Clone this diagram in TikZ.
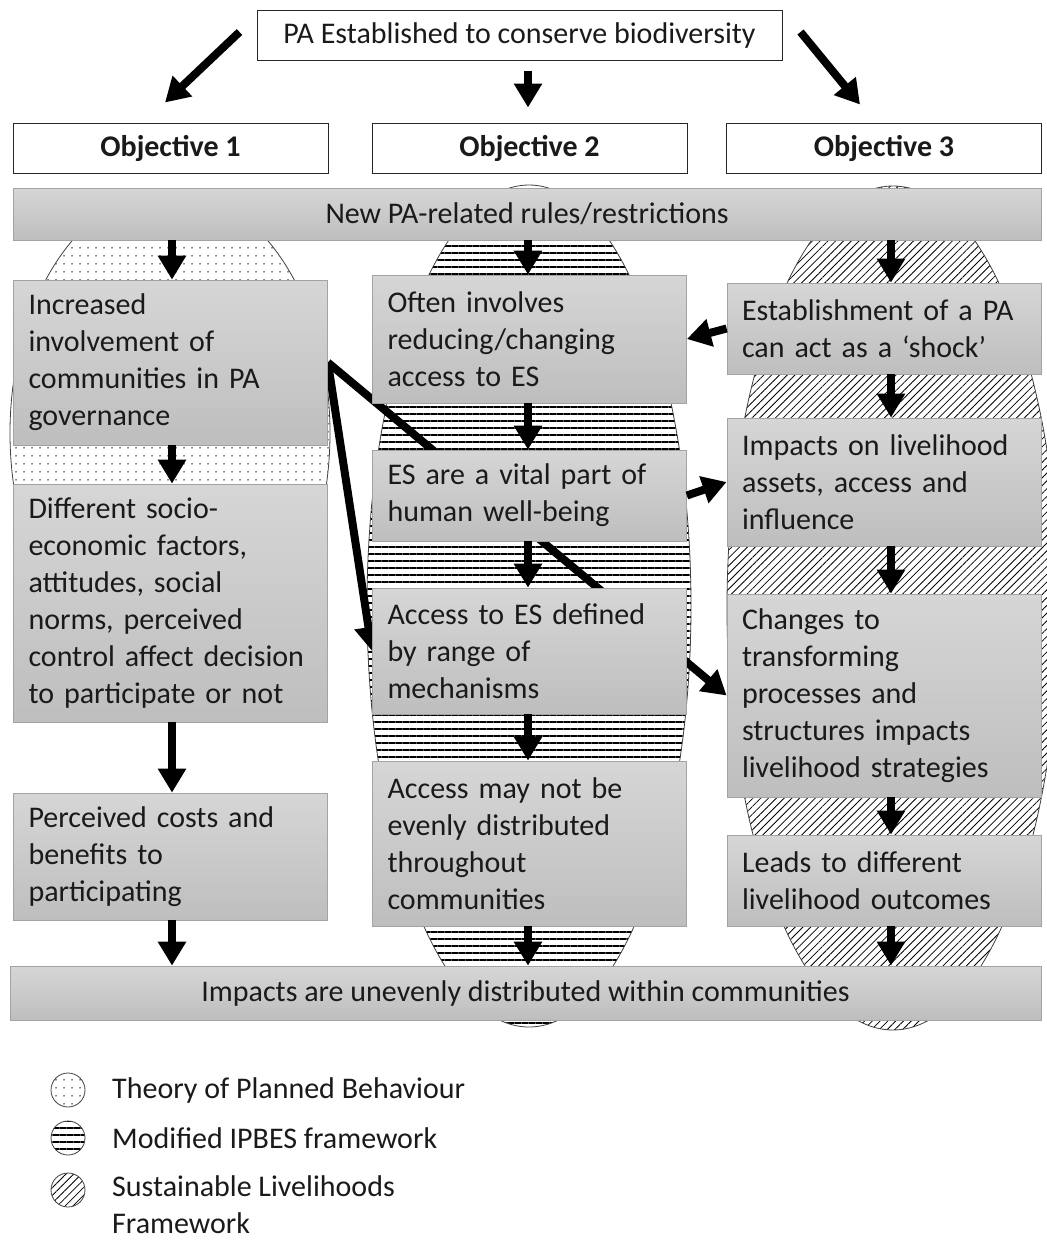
\documentclass[tikz,border=0pt]{standalone}
\usepackage{fontspec}
\setmainfont{Carlito}
\usetikzlibrary{arrows.meta,positioning,calc,patterns.meta,backgrounds}
\definecolor{ink}{HTML}{1A1A1A}
\definecolor{edge}{HTML}{A3A3A3}
\definecolor{shadetop}{HTML}{D6D6D6}
\definecolor{shadebot}{HTML}{BEBEBE}
\tikzset{
  base/.style={font=\fontsize{30}{37}\selectfont, text=ink, inner sep=0pt},
  frame/.style={base, draw=black!85, fill=white, line width=1pt, minimum height=50pt, align=center},
  box/.style={base, draw=edge, line width=0.8pt, top color=shadetop, bottom color=shadebot, minimum width=314pt, text width=284pt, align=left},
  band/.style={base, draw=edge, line width=0.8pt, top color=shadetop, bottom color=shadebot, align=center},
  arr/.style={-{Triangle[length=24pt,width=27pt]}, line width=8pt, draw=black},
  oval/.style={draw=black!75, line width=0.8pt},
  tpb/.style={pattern={Dots[distance=8pt,radius=0.75pt]}},
  ipbes/.style={pattern={Lines[distance=7pt,line width=1.3pt]}},
  slf/.style={pattern={Lines[angle=45,distance=5.5pt,line width=0.8pt]}},
  lab/.style={base, anchor=west, align=left},
}

\begin{document}
\begin{tikzpicture}[x=1pt,y=-1pt]
  \useasboundingbox (0,0) rectangle (1047,1240);

  % header and objectives
  \node[frame, minimum width=525pt] (top) at (519.5,35) {PA Established to conserve biodiversity};
  \node[frame, minimum width=315pt, font=\fontsize{30}{37}\selectfont\bfseries] (obj1) at (170.5,148) {Objective 1};
  \node[frame, minimum width=315pt, font=\fontsize{30}{37}\selectfont\bfseries] (obj2) at (529.5,148) {Objective 2};
  \node[frame, minimum width=315pt, font=\fontsize{30}{37}\selectfont\bfseries] (obj3) at (884,148) {Objective 3};

  \node[band, minimum width=1028pt, minimum height=52pt] (bar) at (527,214) {New PA-related rules/restrictions};
  \node[band, minimum width=1031pt, minimum height=54pt] (foot) at (525.5,993) {Impacts are unevenly distributed within communities};

  % objective 1
  \node[box, minimum height=165pt] (b1) at (170.5,362.5) {Increased\\involvement of\\communities in PA\\governance};
  \node[box, minimum height=238pt] (b2) at (170.5,603) {Different socio-\\economic factors,\\attitudes, social\\norms, perceived\\control affect decision\\to participate or not};
  \node[box, minimum height=127pt] (b3) at (170.5,856.5) {Perceived costs and\\benefits to\\participating};

  % objective 2
  \node[box, minimum height=128pt] (c1) at (529.5,339) {Often involves\\reducing/changing\\access to ES};
  \node[box, minimum height=91pt] (c2) at (529.5,495.5) {ES are a vital part of\\human well-being};
  \node[box, minimum height=126pt] (c3) at (529.5,651) {Access to ES defined\\by range of\\mechanisms};
  \node[box, minimum height=165pt] (c4) at (529.5,843.5) {Access may not be\\evenly distributed\\throughout\\communities};

  % objective 3
  \node[box, minimum height=91pt] (d1) at (884,328.5) {Establishment of a PA\\can act as a ‘shock’};
  \node[box, minimum height=128pt] (d2) at (884,482) {Impacts on livelihood\\assets, access and\\influence};
  \node[box, minimum height=203pt] (d3) at (884,695.5) {Changes to\\transforming\\processes and\\structures impacts\\livelihood strategies};
  \node[box, minimum height=91pt] (d4) at (884,880.5) {Leads to different\\livelihood outcomes};

  % frameworks behind the boxes
  \begin{scope}[on background layer]
    \draw[oval, tpb] (170,433) ellipse [x radius=160, y radius=243];
    \draw[oval, ipbes] (529,606) ellipse [x radius=162, y radius=421];
    \draw[oval, slf] (893,608) ellipse [x radius=166, y radius=422];
    \draw[arr] (b1.east) -- (d3.west);
    \draw[arr] (b1.east) -- (c3.west);
  \end{scope}

  \draw[arr] ($(top.west)+(-17,-3)$) -- ($(obj1.north)+(-5.5,-20)$);
  \draw[arr] ($(top.south)+(8.5,10)$) -- ($(obj2.north)+(-1.5,-15)$);
  \draw[arr] ($(top.east)+(18,-3)$) -- ($(obj3.north)+(-24,-18)$);

  \coordinate (k1) at (172,0);
  \coordinate (k2) at (528,0);
  \coordinate (k3) at (891,0);
  \foreach \a/\b/\k in {bar/b1/k1, b1/b2/k1, b2/b3/k1, b3/foot/k1,
                        bar/c1/k2, c1/c2/k2, c2/c3/k2, c3/c4/k2, c4/foot/k2,
                        bar/d1/k3, d1/d2/k3, d2/d3/k3, d3/d4/k3, d4/foot/k3}
    \draw[arr] (\a.south -| \k) -- (\b.north -| \k);

  \draw[arr] (d1.west) -- (c1.east);
  \draw[arr] (c2.east) -- (d2.west);

  % legend
  \draw[oval, tpb] (68,1090) circle (17);
  \draw[oval, ipbes] (68,1138) circle (17);
  \draw[oval, slf] (68,1190) circle (17);
  \node[lab] (l1) at (112,1090) {Theory of Planned Behaviour};
  \node[lab] (l2) at (112,1138) {Modified IPBES framework};
  \node[lab] (l3) at (112,1205) {Sustainable Livelihoods\\Framework};
\end{tikzpicture}
\end{document}
